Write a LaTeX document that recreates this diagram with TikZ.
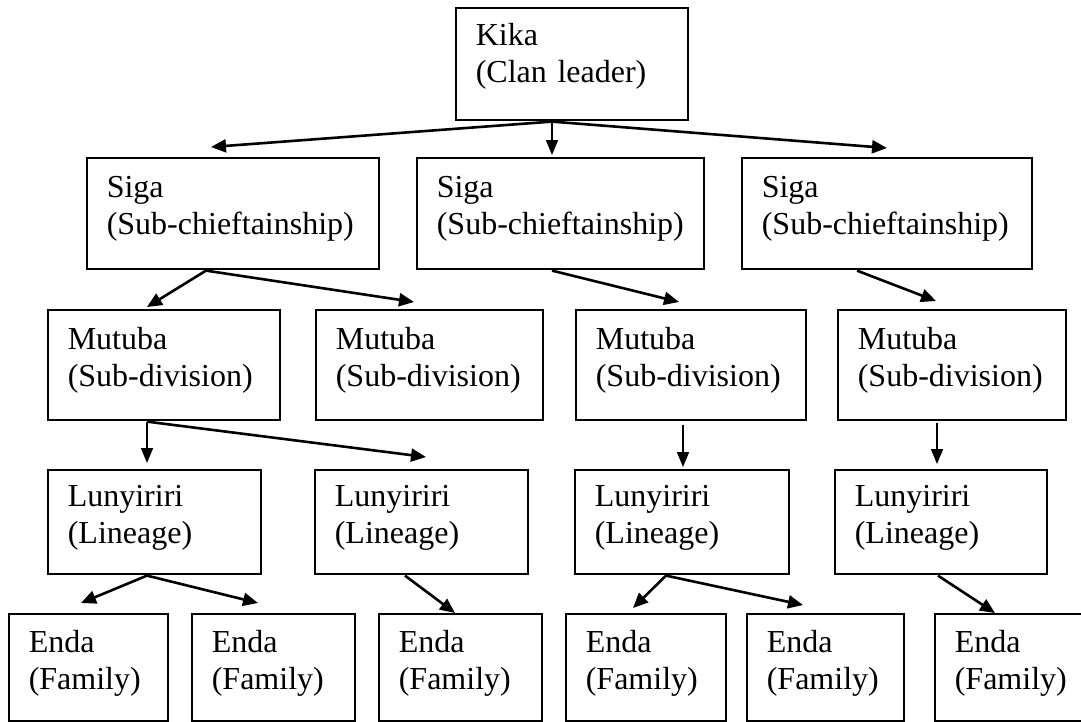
\documentclass[tikz,border=0pt]{standalone}
\usepackage{fontspec}
\setmainfont{Liberation Serif}
\usetikzlibrary{calc,arrows.meta}
\newcommand\lowpad[1]{\rule[-#1]{0pt}{#1}}
\newcommand\twolines[3][15pt]{\mbox{#2}\\\mbox{#3}\lowpad{#1}}
\tikzset{
  box/.style={draw, line width=1.6pt, rectangle, inner xsep=20pt, inner ysep=0pt,
    align=left, anchor=north west, font=\fontsize{32}{37}\selectfont},
  arr/.style={line width=2.6pt, -{Triangle[length=15pt,width=13pt]}},
  varr/.style={line width=1.7pt, -{Triangle[length=15pt,width=12pt]}}
}
\begin{document}
\begin{tikzpicture}[x=1pt,y=-1pt]
\useasboundingbox (0,0) rectangle (1081,721);
% row 1
\node[box, text width=192pt, minimum height=112pt] (k) at (455,7) {\twolines[21pt]{Kika}{(Clan leader)}};
% row 2
\node[box, text width=252pt, minimum height=111pt] (s1) at (86,157) {\twolines{Siga}{(Sub-chieftainship)}};
\node[box, text width=247pt, minimum height=111pt] (s2) at (416,157) {\twolines{Siga}{(Sub-chieftainship)}};
\node[box, text width=250pt, minimum height=111pt] (s3) at (741,157) {\twolines{Siga}{(Sub-chieftainship)}};
% row 3
\node[box, text width=192pt, minimum height=110pt] (m1) at (47,309) {\twolines{Mutuba}{(Sub-division)}};
\node[box, text width=187pt, minimum height=110pt] (m2) at (315,309) {\twolines{Mutuba}{(Sub-division)}};
\node[box, text width=190pt, minimum height=110pt] (m3) at (575,309) {\twolines{Mutuba}{(Sub-division)}};
\node[box, text width=188pt, minimum height=110pt] (m4) at (837,309) {\twolines{Mutuba}{(Sub-division)}};
% row 4
\node[box, text width=173pt, minimum height=104pt] (l1) at (47,469) {\twolines{Lunyiriri}{(Lineage)}};
\node[box, text width=173pt, minimum height=104pt] (l2) at (314,469) {\twolines{Lunyiriri}{(Lineage)}};
\node[box, text width=174pt, minimum height=104pt] (l3) at (574,469) {\twolines{Lunyiriri}{(Lineage)}};
\node[box, text width=172pt, minimum height=104pt] (l4) at (834,469) {\twolines{Lunyiriri}{(Lineage)}};
% row 5
\node[box, text width=119pt, minimum height=107pt] (e1) at (8,613) {\twolines{Enda}{(Family)}};
\node[box, text width=123pt, minimum height=107pt] (e2) at (191,613) {\twolines{Enda}{(Family)}};
\node[box, text width=123pt, minimum height=107pt] (e3) at (378,613) {\twolines{Enda}{(Family)}};
\node[box, text width=120pt, minimum height=107pt] (e4) at (565,613) {\twolines{Enda}{(Family)}};
\node[box, text width=117pt, minimum height=107pt] (e5) at (746,613) {\twolines{Enda}{(Family)}};
\node[box, text width=121pt, minimum height=107pt] (e6) at (934,613) {\twolines{Enda}{(Family)}};
% connectors
\draw[arr]  ($(k.south west)+(97,1)$) -- ($(s1.north west)+(125,-10)$);
\draw[varr] ($(k.south west)+(97,1)$) -- ($(s2.north west)+(136,-2)$);
\draw[arr]  ($(k.south west)+(97,1)$) -- ($(s3.north west)+(146,-9)$);
\draw[arr]  ($(s1.south west)+(120,1)$) -- ($(m1.north west)+(100,-2)$);
\draw[arr]  ($(s1.south west)+(120,1)$) -- ($(m2.north west)+(99,-7)$);
\draw[arr]  ($(s2.south west)+(136,1)$) -- ($(m3.north west)+(104,-7)$);
\draw[arr]  ($(s3.south west)+(116,1)$) -- ($(m4.north west)+(99,-8)$);
\draw[varr] ($(m1.south west)+(100,1)$) -- ($(l1.north west)+(100,-6)$);
\draw[arr]  ($(m1.south west)+(100,1)$) -- ($(l2.north west)+(112,-12)$);
\draw[varr] ($(m3.south west)+(108,4)$) -- ($(l3.north west)+(109,-2)$);
\draw[varr] ($(m4.south west)+(100,2)$) -- ($(l4.north west)+(103,-5)$);
\draw[arr]  ($(l1.south west)+(100,1)$) -- ($(e1.north west)+(73,-10)$);
\draw[arr]  ($(l1.south west)+(100,1)$) -- ($(e2.north west)+(67,-10)$);
\draw[arr]  ($(l2.south west)+(91,1)$) -- ($(e3.north west)+(77,0)$);
\draw[arr]  ($(l3.south west)+(92,1)$) -- ($(e4.north west)+(68,-5)$);
\draw[arr]  ($(l3.south west)+(92,1)$) -- ($(e5.north west)+(57,-8)$);
\draw[arr]  ($(l4.south west)+(104,1)$) -- ($(e6.north west)+(61,0)$);
\end{tikzpicture}
\end{document}
